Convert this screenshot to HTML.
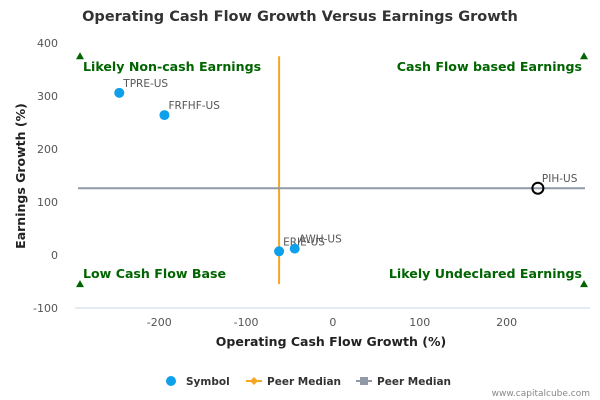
<!DOCTYPE html>
<html><head><meta charset="utf-8"><style>
html,body{margin:0;padding:0;background:#fff;}
svg{display:block;font-family:"DejaVu Sans","Liberation Sans",sans-serif;}
</style></head><body>
<svg id="chart" width="600" height="400" viewBox="0 0 600 400">
<text x="300" y="21" text-anchor="middle" font-size="14.5" font-weight="bold" fill="#333">Operating Cash Flow Growth Versus Earnings Growth</text>
<g id="axes"></g>
<g id="marks"></g>
<text x="331" y="346" text-anchor="middle" font-size="12.5" font-weight="bold" fill="#222">Operating Cash Flow Growth (%)</text>
<text transform="translate(25,176) rotate(-90)" text-anchor="middle" font-size="12.5" font-weight="bold" fill="#222">Earnings Growth (%)</text>
<g font-size="10.5" font-weight="bold" fill="#333">
<g><circle cx="171" cy="381" r="5" fill="#0ea0ea"/><text x="186" y="385">Symbol</text></g>
<g><line x1="246" y1="381" x2="262" y2="381" stroke="#f5a623" stroke-width="2"/><path d="M254 377 L258 381 L254 385 L250 381Z" fill="#f5a623"/><text x="267" y="385">Peer Median</text></g>
<g><line x1="356" y1="381" x2="372" y2="381" stroke="#9099a8" stroke-width="2"/><rect x="360" y="377" width="8" height="8" fill="#9099a8"/><text x="377" y="385">Peer Median</text></g>
</g>
<text x="590" y="396" text-anchor="end" font-size="9" fill="#888">www.capitalcube.com</text>
</svg>
<script>
const names=["TPRE-US","FRFHF-US","ERIE-US","AWH-US","PIH-US"];
const ocfGrowth=[-246,-194,-62,-44,236];
const epsGrowth=[306,264,7,12,126];
const highlighted=[false,false,false,false,true];
const peerMedianX=-62;
const peerMedianY=126;
const yTicks=[400,300,200,100,0,-100];
const xTicks=[-200,-100,0,100,200];
const quadrantLabels=["Likely Non-cash Earnings","Cash Flow based Earnings","Low Cash Flow Base","Likely Undeclared Earnings"];

const X0=-297,X1=296,Y0=-100,Y1=400,L=75,R=590,T=43,B=308;
const sx=v=>L+(v-X0)/(X1-X0)*(R-L);
const sy=v=>B-(v-Y0)/(Y1-Y0)*(B-T);
const NS="http://www.w3.org/2000/svg";
function mk(tag,attrs,parent,txt){const e=document.createElementNS(NS,tag);for(const k in attrs)e.setAttribute(k,attrs[k]);if(txt!=null)e.textContent=txt;parent.appendChild(e);return e;}
const axes=document.getElementById('axes'),marks=document.getElementById('marks');
const base=mk('line',{x1:L,y1:sy(-100),x2:R,y2:sy(-100),stroke:'#ccd6eb'},axes);


yTicks.forEach(t=>{const e=mk('text',{x:58,y:sy(t)+4,'text-anchor':'end','font-size':11,fill:'#555'},axes,t);

});
xTicks.forEach(t=>{const e=mk('text',{x:sx(t),y:326,'text-anchor':'middle','font-size':11,fill:'#555'},axes,t);

});
const qx=[sx(X0)+5,sx(X1)-6,sx(X0)+5,sx(X1)-6],qy=[sy(375),sy(375),sy(-55),sy(-55)];
quadrantLabels.forEach((lab,i)=>{
 const tri=mk('path',{d:`M${qx[i]-4} ${qy[i]+3} L${qx[i]+4} ${qy[i]+3} L${qx[i]} ${qy[i]-4}Z`,fill:'#006400'},marks);
 
 
 const right=i%2==1;
 const tx=mk('text',{x:right?582:83,y:i<2?71:278,'text-anchor':right?'end':'start','font-size':12.6,'font-weight':'bold',fill:'#006400'},marks,lab);
 
 
});
const vl=mk('line',{x1:sx(peerMedianX),y1:sy(375),x2:sx(peerMedianX),y2:sy(-55),stroke:'#f5a623','stroke-width':2},marks);


const hl=mk('line',{x1:sx(X0)+3,y1:sy(peerMedianY),x2:sx(X1)-5,y2:sy(peerMedianY),stroke:'#9099a8','stroke-width':2},marks);


names.forEach((n,i)=>{
 const cx=sx(ocfGrowth[i]),cy=sy(epsGrowth[i]);
 const c=mk('circle',highlighted[i]?{cx,cy,r:5.5,fill:'none',stroke:'#000','stroke-width':2}:{cx,cy,r:5,fill:'#0ea0ea'},marks);
 
 
 const t=mk('text',{x:cx+4,y:cy-6,'font-size':10.5,fill:'#555'},marks,n);
 
 
});
</script>
</body></html>
